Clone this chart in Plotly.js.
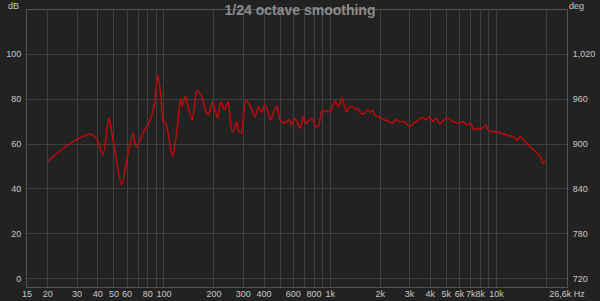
<!DOCTYPE html>
<html>
<head>
<meta charset="utf-8">
<script src="https://cdn.plot.ly/plotly-3.0.1.min.js"></script>
<style>html,body{margin:0;padding:0;background:#222222;}#chart{width:600px;height:301px;}</style>
</head>
<body>
<div id="chart"></div>
<script>
const freqHz = [20, 24.8, 29.5, 33.3, 35.8, 39.3, 43, 46.6, 49.4, 55.6, 60.8, 65.2, 68, 75, 82, 87.7, 92, 96, 99, 103, 106, 112, 115, 121, 126, 129, 135, 138, 148, 158, 167, 179, 186, 196, 210, 220, 232, 243, 257, 265, 274, 282, 292, 311, 329, 353, 370, 387, 402, 414, 438, 458, 478, 498, 530, 548, 567, 584, 610, 634, 660, 689, 720, 753, 779, 820, 856, 894, 1000, 1071, 1118, 1180, 1252, 1310, 1370, 1423, 1470, 1527, 1600, 1676, 1733, 1800, 1886, 1977, 2120, 2250, 2380, 2490, 2610, 2800, 3000, 3210, 3440, 3600, 3770, 3950, 4140, 4330, 4570, 4850, 5150, 5450, 6040, 6300, 6650, 7000, 7300, 7640, 8000, 8700, 8900, 9440, 10100, 10600, 11600, 12700, 13300, 13900, 14900, 16000, 17200, 18400, 19100, 19700];
const splDb = [52.4, 58, 61.8, 63.6, 64.4, 62.5, 55, 71.4, 61.8, 41.8, 55.9, 65, 58.5, 65, 70, 78, 90.7, 81, 70, 69.2, 64.7, 54.7, 57, 69.2, 80, 77, 81.3, 78, 70.7, 83.7, 81.8, 74.4, 72.9, 78.8, 71.4, 78.8, 75.1, 78.8, 65.5, 66.5, 70, 65.5, 64.8, 79.2, 77.3, 72.1, 76.3, 74, 77.3, 76.3, 70.7, 74.4, 76.9, 70.7, 69.2, 70, 71, 68.4, 71.4, 69.5, 67, 72.1, 69.2, 70.7, 71.4, 67.7, 68.4, 74.8, 74.4, 79.2, 76.6, 80.3, 74.4, 76.5, 76.5, 75.4, 75.9, 73.6, 73.6, 75.4, 74.1, 74.8, 72.4, 72.1, 70.7, 70, 69.2, 71, 70, 70, 67.7, 69.5, 71, 71.9, 70.7, 72.1, 70, 71.4, 68.9, 70.7, 71.4, 70, 69.2, 70, 68.4, 69.2, 66.5, 67, 66.5, 68.4, 66.2, 65.5, 65.5, 64.8, 64, 63.2, 61.5, 63.2, 61, 58.8, 56.6, 54.4, 51.4, 52.4];

const xTickVals = [15, 20, 30, 40, 50, 60, 70, 80, 90, 100, 200, 300, 400, 500, 600, 700, 800, 900, 1000, 2000, 3000, 4000, 5000, 6000, 7000, 8000, 9000, 10000, 20000, 26600];
const xTickText = ["15", "20", "30", "40", "50", "60", "", "80", "", "100", "200", "300", "400", "", "600", "", "800", "", "1k", "2k", "3k", "4k", "5k", "6k", "7k", "8k", "", "10k", "", "26,6k Hz"];
const dbTicks = [0, 20, 40, 60, 80, 100];
const degTicks = [720, 780, 840, 900, 960, 1020];

const dbRange = [-3.6, 119.6];
const degRange = [720 + 3 * dbRange[0], 720 + 3 * dbRange[1]];

const gridC = '#3f3f3f';
const lineC = '#555555';
const tickFont = {family: 'Liberation Sans, Arial, sans-serif', size: 9, color: '#c8c8c8'};

const traces = [
  {x: freqHz, y: splDb, type: 'scatter', mode: 'lines', line: {color: '#c00a0a', width: 1.5, shape: 'spline', smoothing: 0.6}, hoverinfo: 'none', showlegend: false},
  {x: [freqHz[0]], y: [null], yaxis: 'y2', type: 'scatter', mode: 'lines', showlegend: false, hoverinfo: 'none'}
];

const layout = {
  width: 600, height: 301,
  paper_bgcolor: '#222222', plot_bgcolor: '#222222',
  margin: {l: 27, r: 33, t: 10, b: 14, pad: 0},
  title: {text: '<b>1/24 octave smoothing</b>', font: {family: 'Liberation Sans, Arial, sans-serif', size: 14, color: '#8c8c8c'}, x: 0.5, xanchor: 'center', y: 0.965, yanchor: 'middle', yref: 'container'},
  xaxis: {type: 'log', range: [Math.log10(15), Math.log10(26600)], tickmode: 'array', tickvals: xTickVals, ticktext: xTickText, tickangle: 0, ticklabeloverflow: 'allow', showgrid: true, gridcolor: gridC, gridwidth: 1, zeroline: false, showline: true, linecolor: lineC, mirror: true, ticks: '', tickfont: tickFont, ticklabelstandoff: -2, automargin: false},
  yaxis: {range: dbRange, tickmode: 'array', tickvals: dbTicks, showgrid: true, gridcolor: gridC, zeroline: false, showline: true, linecolor: lineC, ticks: '', tickfont: tickFont, ticklabelstandoff: 3, automargin: false},
  yaxis2: {overlaying: 'y', side: 'right', range: degRange, tickmode: 'array', tickvals: degTicks, tickformat: ',', showgrid: false, zeroline: false, showline: true, linecolor: lineC, ticks: '', tickfont: tickFont, ticklabelstandoff: 3, automargin: false},
  annotations: [
    {text: 'dB', xref: 'paper', yref: 'paper', x: -0.012, y: 1.0, xanchor: 'right', yanchor: 'bottom', showarrow: false, font: tickFont, yshift: -3},
    {text: 'deg', xref: 'paper', yref: 'paper', x: 1.0, y: 1.0, xanchor: 'left', yanchor: 'bottom', showarrow: false, font: tickFont, xshift: 0, yshift: -3}
  ]
};

Plotly.newPlot('chart', traces, layout, {staticPlot: true, displayModeBar: false});
</script>
</body>
</html>
